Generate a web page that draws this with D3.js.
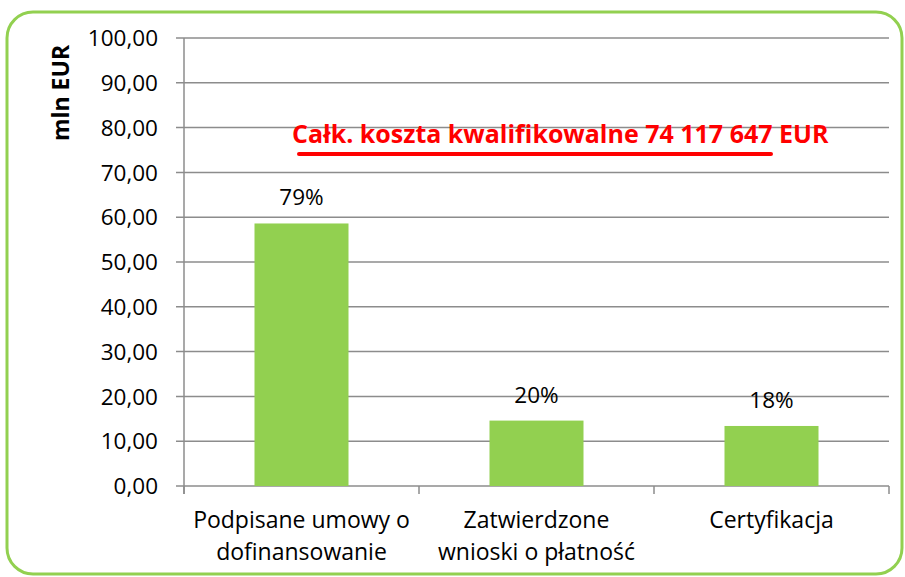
<!DOCTYPE html>
<html>
<head>
<meta charset="utf-8">
<script src="https://cdn.jsdelivr.net/npm/d3@7"></script>
<style>
  body { margin: 0; background: #fff; }
  svg { display: block; }
</style>
</head>
<body>
<div id="chart"></div>
<script>
var categories = [["Podpisane umowy o", "dofinansowanie"], ["Zatwierdzone", "wnioski o płatność"], ["Certyfikacja"]];
var values = [58.6, 14.6, 13.4];
var percents = ["79%", "20%", "18%"];
var yTicks = [0, 10, 20, 30, 40, 50, 60, 70, 80, 90, 100];
var note = "Całk. koszta kwalifikowalne 74 117 647 EUR";

var W = 905, H = 577,
  margin = {top: 38, right: 16, bottom: 91, left: 184},
  width = W - margin.left - margin.right,
  height = H - margin.top - margin.bottom;

var font = "Open Sans, Lato, sans-serif";

var svg = d3.select("#chart").append("svg")
  .attr("width", W)
  .attr("height", H);

// green rounded frame
svg.append("rect")
  .attr("x", 7).attr("y", 12)
  .attr("width", 895).attr("height", 562)
  .attr("rx", 26).attr("ry", 26)
  .attr("fill", "none")
  .attr("stroke", "#92D050")
  .attr("stroke-width", 3);

var g = svg.append("g")
  .attr("transform", "translate(" + margin.left + "," + margin.top + ")");

var x = d3.scaleBand()
  .domain(d3.range(values.length))
  .range([0, width])
  .padding(0);

var y = d3.scaleLinear()
  .domain([0, 100])
  .range([height, 0]);

// gridlines
g.selectAll(".grid")
  .data(yTicks)
  .enter().append("line")
  .attr("class", "grid")
  .attr("x1", -8).attr("x2", width)
  .attr("y1", function(d) { return y(d); })
  .attr("y2", function(d) { return y(d); })
  .attr("stroke", "#8c8c8c")
  .attr("stroke-width", 1.5);

// y axis labels
g.selectAll(".ylab")
  .data(yTicks)
  .enter().append("text")
  .attr("x", -26)
  .attr("y", function(d) { return y(d); })
  .attr("dy", "0.36em")
  .attr("text-anchor", "end")
  .style("font", "22.5px " + font)
  .attr("fill", "#000")
  .text(function(d) { return d3.format(".2f")(d).replace(".", ","); });

// y axis line
g.append("line")
  .attr("x1", 0).attr("x2", 0)
  .attr("y1", 0).attr("y2", height + 8)
  .attr("stroke", "#8c8c8c")
  .attr("stroke-width", 1.5);

// x category ticks
var xt = d3.range(values.length + 1).map(function(i) { return i * x.step(); });
g.selectAll(".xtick")
  .data(xt)
  .enter().append("line")
  .attr("x1", function(d) { return d; })
  .attr("x2", function(d) { return d; })
  .attr("y1", height).attr("y2", height + 8)
  .attr("stroke", "#8c8c8c")
  .attr("stroke-width", 1.5);

// bars
var bw = x.bandwidth() * 0.4;
g.selectAll(".bar")
  .data(values)
  .enter().append("rect")
  .attr("class", "bar")
  .attr("x", function(d, i) { return x(i) + (x.bandwidth() - bw) / 2; })
  .attr("y", function(d) { return y(d); })
  .attr("width", bw)
  .attr("height", function(d) { return height - y(d); })
  .attr("fill", "#92D050");

// percent labels
g.selectAll(".pct")
  .data(values)
  .enter().append("text")
  .attr("x", function(d, i) { return x(i) + x.bandwidth() / 2; })
  .attr("y", function(d) { return y(d) - 18; })
  .attr("text-anchor", "middle")
  .style("font", "22.5px " + font)
  .attr("fill", "#000")
  .text(function(d, i) { return percents[i]; });

// category labels
var cat = g.selectAll(".cat")
  .data(categories)
  .enter().append("text")
  .attr("x", function(d, i) { return x(i) + x.bandwidth() / 2; })
  .attr("y", height + 42)
  .attr("text-anchor", "middle")
  .style("font", "23px " + font)
  .attr("fill", "#000");
cat.selectAll("tspan")
  .data(function(d) { return d; })
  .enter().append("tspan")
  .attr("x", function() { return d3.select(this.parentNode).attr("x"); })
  .attr("dy", function(d, i) { return i ? 32 : 0; })
  .text(function(d) { return d; });

// y axis title
svg.append("text")
  .attr("transform", "translate(69,93) rotate(-90)")
  .attr("text-anchor", "middle")
  .style("font", "bold 23px " + font)
  .attr("fill", "#000")
  .text("mln EUR");

// red note with underline
svg.append("text")
  .attr("x", 292)
  .attr("y", 143)
  .style("font", "bold 25px " + font)
  .attr("fill", "#ff0000")
  .text(note);

svg.append("line")
  .attr("x1", 299).attr("x2", 771)
  .attr("y1", 154).attr("y2", 154)
  .attr("stroke", "#ff0000")
  .attr("stroke-width", 4)
  .attr("stroke-linecap", "round");
</script>
</body>
</html>
